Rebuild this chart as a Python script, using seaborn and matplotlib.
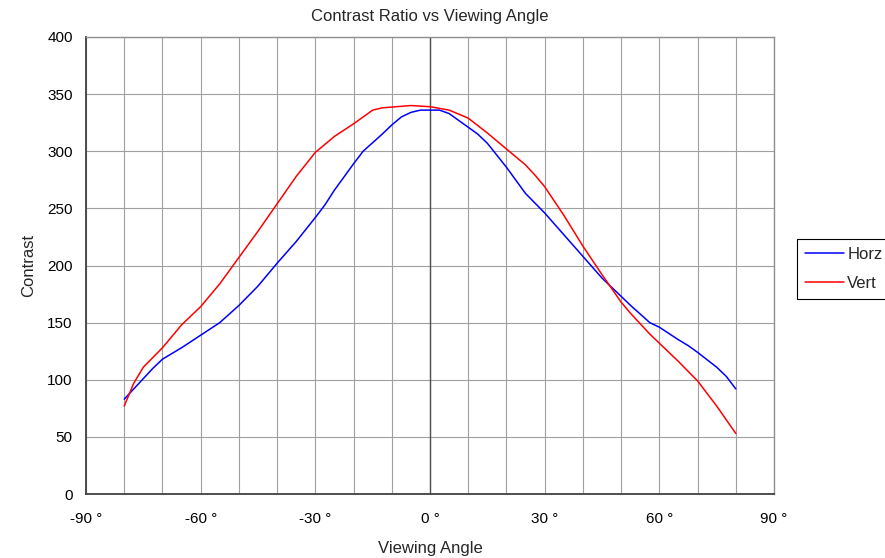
import numpy as np
import pandas as pd
import seaborn as sns
import matplotlib
matplotlib.use("Agg")
import matplotlib.pyplot as plt

# Contrast ratio measured at each viewing angle (degrees)
horz_angle = [-80, -77.5, -72.5, -70, -65, -60, -55, -50, -45, -40, -35, -30, -27.5,
              -25, -20, -17.5, -12.5, -10, -7.5, -5, -2.5, 0, 2.5, 5, 10, 12.5, 15,
              20, 25, 30, 35, 40, 45, 50, 52.5, 57.5, 60, 65, 67.5, 70, 75, 77.5, 80]
horz_contrast = [83, 92, 110, 118, 128, 139, 150, 165, 182, 202, 221, 242, 253,
                 266, 289, 300, 315, 323, 330, 334, 336, 336, 336, 333, 321, 315, 307,
                 286, 263, 246, 227, 208, 189, 173, 165, 150, 146, 135, 130, 124, 111, 103, 92]

vert_angle = [-80, -77.5, -75, -70, -65, -60, -55, -50, -45, -40, -35, -30, -25,
              -20, -15, -12.5, -5, 0, 5, 10, 15, 20, 25, 27.5, 30, 35, 40, 45,
              50, 52.5, 57.5, 60, 65, 70, 75, 80]
vert_contrast = [77, 97, 111, 128, 148, 164, 184, 207, 230, 254, 278, 299, 313,
                 324, 336, 338, 340, 339, 336, 329, 316, 302, 288, 279, 269, 244, 217, 192,
                 168, 158, 140, 132, 116, 99, 77, 53]

series_names = ["Horz", "Vert"]
series_colors = ["#0000FF", "#FF0000"]

x_ticks = [-90, -60, -30, 0, 30, 60, 90]
y_ticks = [0, 50, 100, 150, 200, 250, 300, 350, 400]

df = pd.concat([
    pd.DataFrame({"angle": horz_angle, "contrast": horz_contrast, "series": "Horz"}),
    pd.DataFrame({"angle": vert_angle, "contrast": vert_contrast, "series": "Vert"}),
], ignore_index=True)

sns.set_style("white")
plt.rcParams["font.family"] = ["Liberation Sans", "DejaVu Sans"]
plt.rcParams["font.size"] = 11

fig = plt.figure(figsize=(8.85, 5.58), dpi=100)
ax = fig.add_axes([86 / 885, 1 - 494 / 558, (774 - 86) / 885, (494 - 37) / 558])

# grid first so the curves sit on top
ax.set_xlim(-90, 90)
ax.set_ylim(0, 400)
ax.set_xticks(np.arange(-90, 91, 10), minor=False)
ax.set_yticks(y_ticks)
ax.grid(True, which="major", color="#a0a0a0", linewidth=0.8)
ax.set_axisbelow(True)
ax.axvline(0, color="#505050", linewidth=1.0, zorder=1.5)

sns.lineplot(data=df, x="angle", y="contrast", hue="series", hue_order=series_names,
             palette=dict(zip(series_names, series_colors)), linewidth=1.1,
             sort=True, estimator=None, ax=ax, legend=True)

ax.set_xticklabels([f"{t} °" if t in x_ticks else "" for t in np.arange(-90, 91, 10)])
ax.tick_params(axis="both", length=0, labelsize=11, colors="black")
ax.tick_params(axis="x", pad=13.3)
ax.tick_params(axis="y", pad=9.6)

for side in ["top", "right"]:
    ax.spines[side].set_color("#909090")
    ax.spines[side].set_linewidth(1.0)
for side in ["left", "bottom"]:
    ax.spines[side].set_color("#404040")
    ax.spines[side].set_linewidth(1.3)

ax.set_title("Contrast Ratio vs Viewing Angle", fontsize=12, pad=11.7)
ax.set_xlabel("Viewing Angle", fontsize=12, labelpad=10.5)
ax.set_ylabel("Contrast", fontsize=12, labelpad=8)

handles, labels = ax.get_legend_handles_labels()
leg = ax.legend(handles, labels, loc="center left", bbox_to_anchor=(797 / 885, 1 - 269 / 558),
                bbox_transform=fig.transFigure, frameon=True, fancybox=False,
                edgecolor="black", framealpha=1, fontsize=12, handlelength=2.33,
                handletextpad=0.18, labelspacing=0.84, borderpad=0.5, borderaxespad=0)
leg.get_frame().set_linewidth(0.8)

fig.savefig("out.png", dpi=100)
